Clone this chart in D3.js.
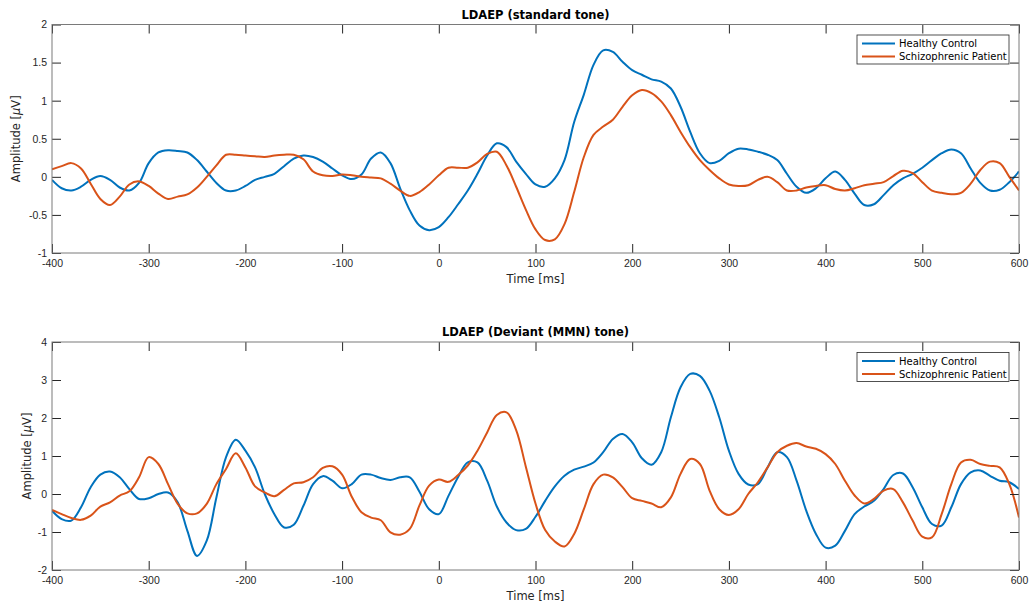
<!DOCTYPE html>
<html>
<head>
<meta charset="utf-8">
<script src="https://cdn.jsdelivr.net/npm/d3@7"></script>
<style>
  body { margin: 0; background: #fff; }
  svg { font-family: "DejaVu Sans", sans-serif; }
  .tick text { fill: #262626; font-size: 10.5px; }
  .tick line { stroke: #262626; }
</style>
</head>
<body>
<svg id="chart" width="1029" height="605"></svg>
<script>
// time points [ms]
const timeStd = [-400,-390,-380,-370,-360,-350,-340,-330,-320,-310,-300,-290,-280,-270,-260,-250,-240,-230,-220,-210,-200,-190,-180,-170,-160,-150,-140,-130,-120,-110,-100,-90,-80,-70,-60,-50,-40,-30,-20,-10,0,10,20,30,40,50,60,70,80,90,100,110,120,130,140,150,160,170,180,190,200,210,220,230,240,250,260,270,280,290,300,310,320,330,340,350,360,370,380,390,400,410,420,430,440,450,460,470,480,490,500,510,520,530,540,550,560,570,580,590,600]

const stdHealthy = [-0.04,-0.15,-0.18,-0.13,-0.04,0.01,-0.04,-0.14,-0.18,-0.08,0.18,0.32,0.35,0.34,0.32,0.22,0.07,-0.08,-0.18,-0.18,-0.12,-0.04,0,0.04,0.14,0.24,0.28,0.26,0.2,0.11,0.02,-0.03,0.03,0.24,0.32,0.18,-0.15,-0.44,-0.64,-0.7,-0.66,-0.53,-0.36,-0.18,0.04,0.28,0.44,0.39,0.2,0.04,-0.1,-0.13,-0.02,0.22,0.72,1.08,1.47,1.66,1.64,1.51,1.4,1.34,1.28,1.25,1.16,0.92,0.59,0.31,0.18,0.21,0.31,0.37,0.36,0.33,0.29,0.22,0.04,-0.13,-0.21,-0.15,-0.02,0.07,-0.04,-0.22,-0.37,-0.36,-0.24,-0.11,-0.02,0.04,0.12,0.22,0.31,0.36,0.31,0.11,-0.08,-0.18,-0.17,-0.07,0.07]

const stdPatient = [0.1,0.14,0.18,0.11,-0.09,-0.29,-0.37,-0.26,-0.1,-0.06,-0.12,-0.22,-0.29,-0.26,-0.23,-0.14,0,0.15,0.29,0.29,0.28,0.27,0.26,0.28,0.29,0.29,0.23,0.07,0.02,0.01,0.03,0.02,0,-0.01,-0.02,-0.09,-0.18,-0.25,-0.2,-0.1,0.02,0.12,0.12,0.12,0.19,0.3,0.33,0.15,-0.13,-0.43,-0.69,-0.83,-0.82,-0.62,-0.2,0.26,0.55,0.66,0.75,0.92,1.07,1.14,1.1,0.99,0.81,0.59,0.39,0.22,0.09,-0.02,-0.1,-0.12,-0.11,-0.04,0,-0.07,-0.18,-0.18,-0.14,-0.12,-0.11,-0.16,-0.18,-0.15,-0.11,-0.09,-0.07,0.01,0.08,0.05,-0.07,-0.18,-0.21,-0.23,-0.21,-0.09,0.09,0.2,0.18,0,-0.18]

const devHealthy = [-0.44,-0.66,-0.7,-0.35,0.18,0.51,0.59,0.44,0.13,-0.13,-0.11,0,0.04,-0.22,-0.97,-1.63,-1.23,-0.09,0.97,1.43,1.14,0.7,0,-0.53,-0.88,-0.81,-0.31,0.26,0.47,0.35,0.15,0.26,0.51,0.51,0.42,0.37,0.44,0.44,0.06,-0.4,-0.53,-0.05,0.45,0.83,0.83,0.35,-0.33,-0.75,-0.95,-0.92,-0.6,-0.18,0.2,0.48,0.64,0.72,0.83,1.1,1.45,1.58,1.36,0.94,0.77,1.1,2.02,2.81,3.16,3.11,2.72,2.02,1.14,0.53,0.25,0.26,0.7,1.1,0.97,0.35,-0.44,-1.05,-1.41,-1.36,-0.97,-0.53,-0.33,-0.18,0.13,0.5,0.54,0.18,-0.35,-0.79,-0.83,-0.35,0.26,0.57,0.62,0.48,0.35,0.31,0.13]

const devPatient = [-0.42,-0.53,-0.63,-0.68,-0.57,-0.33,-0.22,-0.04,0.07,0.44,0.97,0.79,0.26,-0.26,-0.51,-0.51,-0.26,0.26,0.66,1.07,0.7,0.2,0.04,-0.06,0.11,0.28,0.31,0.44,0.69,0.73,0.51,-0.07,-0.48,-0.62,-0.69,-1.01,-1.07,-0.92,-0.3,0.22,0.38,0.32,0.5,0.75,1.14,1.62,2.08,2.15,1.68,0.72,-0.25,-0.95,-1.25,-1.38,-1.05,-0.4,0.26,0.51,0.44,0.18,-0.11,-0.18,-0.25,-0.35,-0.09,0.53,0.92,0.79,0.09,-0.4,-0.55,-0.4,0,0.31,0.7,1.1,1.27,1.34,1.25,1.19,1.05,0.79,0.35,-0.04,-0.25,-0.13,0.09,0.13,-0.22,-0.7,-1.12,-1.14,-0.53,0.26,0.83,0.9,0.79,0.74,0.7,0.26,-0.62]

const seriesNames = ["Healthy Control", "Schizophrenic Patient"]
const seriesColors = ["#0072bd", "#d95319"]

const xTicks = [-400,-300,-200,-100,0,100,200,300,400,500,600]

const panels = [
  { title: "LDAEP (standard tone)", top: 24.5, bottom: 253, domain: [-1, 2],
    yTicks: [-1,-0.5,0,0.5,1,1.5,2], series: [stdHealthy, stdPatient], ylabelX: 16 },
  { title: "LDAEP (Deviant (MMN) tone)", top: 342, bottom: 570, domain: [-2, 4],
    yTicks: [-2,-1,0,1,2,3,4], series: [devHealthy, devPatient], ylabelX: 27 }
]

const svg = d3.select("#chart")
const left = 52, right = 1019, tickLen = 9

panels.forEach(function(p) {
  const x = d3.scaleLinear().domain([-400, 600]).range([left, right])
  const y = d3.scaleLinear().domain(p.domain).range([p.bottom, p.top])
  const g = svg.append("g")

  // lines
  const line = d3.line()
      .x(function(d, i) { return x(timeStd[i]) })
      .y(function(d) { return y(d) })
      .curve(d3.curveCatmullRom.alpha(0.5))

  g.append("defs").append("clipPath")
      .attr("id", "clip" + p.top)
    .append("rect")
      .attr("x", left).attr("y", p.top)
      .attr("width", right - left).attr("height", p.bottom - p.top)

  p.series.forEach(function(s, k) {
    g.append("path")
        .datum(s)
        .attr("clip-path", "url(#clip" + p.top + ")")
        .attr("fill", "none")
        .attr("stroke", seriesColors[k])
        .attr("stroke-width", 2)
        .attr("stroke-linejoin", "round")
        .attr("d", line)
  })

  // axes, MATLAB style ticks pointing inward on all four sides
  const fmt = d3.format("~g")
  g.append("g")
      .attr("transform", "translate(0," + p.bottom + ")")
      .call(d3.axisBottom(x).tickValues(xTicks).tickSize(-tickLen).tickPadding(6.5).tickFormat(fmt))
      .call(function(a) { a.select(".domain").remove() })
  g.append("g")
      .attr("transform", "translate(0," + p.top + ")")
      .call(d3.axisTop(x).tickValues(xTicks).tickSize(-tickLen).tickFormat(""))
      .call(function(a) { a.select(".domain").remove() })
  g.append("g")
      .attr("transform", "translate(" + left + ",0)")
      .call(d3.axisLeft(y).tickValues(p.yTicks).tickSize(-tickLen).tickPadding(5).tickFormat(fmt))
      .call(function(a) { a.select(".domain").remove() })
  g.append("g")
      .attr("transform", "translate(" + right + ",0)")
      .call(d3.axisRight(y).tickValues(p.yTicks).tickSize(-tickLen).tickFormat(""))
      .call(function(a) { a.select(".domain").remove() })

  g.selectAll(".tick text").text(function() { return d3.select(this).text().replace("−", "-") })

  g.append("rect")
      .attr("x", left).attr("y", p.top)
      .attr("width", right - left).attr("height", p.bottom - p.top)
      .attr("fill", "none")
      .attr("stroke", "#7a7a7a")
      .attr("stroke-width", 1)

  // title and labels
  g.append("text")
      .attr("x", (left + right) / 2).attr("y", p.top - 6)
      .attr("text-anchor", "middle")
      .attr("font-size", 11.5).attr("font-weight", "bold")
      .attr("fill", "#000")
      .text(p.title)

  g.append("text")
      .attr("x", (left + right) / 2).attr("y", p.bottom + 30)
      .attr("text-anchor", "middle")
      .attr("font-size", 11.5).attr("fill", "#262626")
      .text("Time [ms]")

  const yl = g.append("text")
      .attr("transform", "translate(" + (p.ylabelX + 4) + "," + ((p.top + p.bottom) / 2) + ") rotate(-90)")
      .attr("text-anchor", "middle")
      .attr("font-size", 11.5).attr("fill", "#262626")
  yl.append("tspan").text("Amplitude [")
  yl.append("tspan").attr("font-style", "italic").text("μ")
  yl.append("tspan").text("V]")

  // legend
  const lg = g.append("g").attr("transform", "translate(857," + (p.top + 10.5) + ")")
  lg.append("rect")
      .attr("width", 152).attr("height", 29)
      .attr("fill", "#fff").attr("stroke", "#262626").attr("stroke-width", 0.8)
  seriesNames.forEach(function(name, k) {
    const yy = 8.5 + k * 13
    lg.append("line")
        .attr("x1", 5).attr("x2", 38).attr("y1", yy).attr("y2", yy)
        .attr("stroke", seriesColors[k]).attr("stroke-width", 2)
    lg.append("text")
        .attr("x", 42).attr("y", yy).attr("dy", "0.35em")
        .attr("font-size", 10).attr("fill", "#000")
        .text(name)
  })
})
</script>
</body>
</html>
